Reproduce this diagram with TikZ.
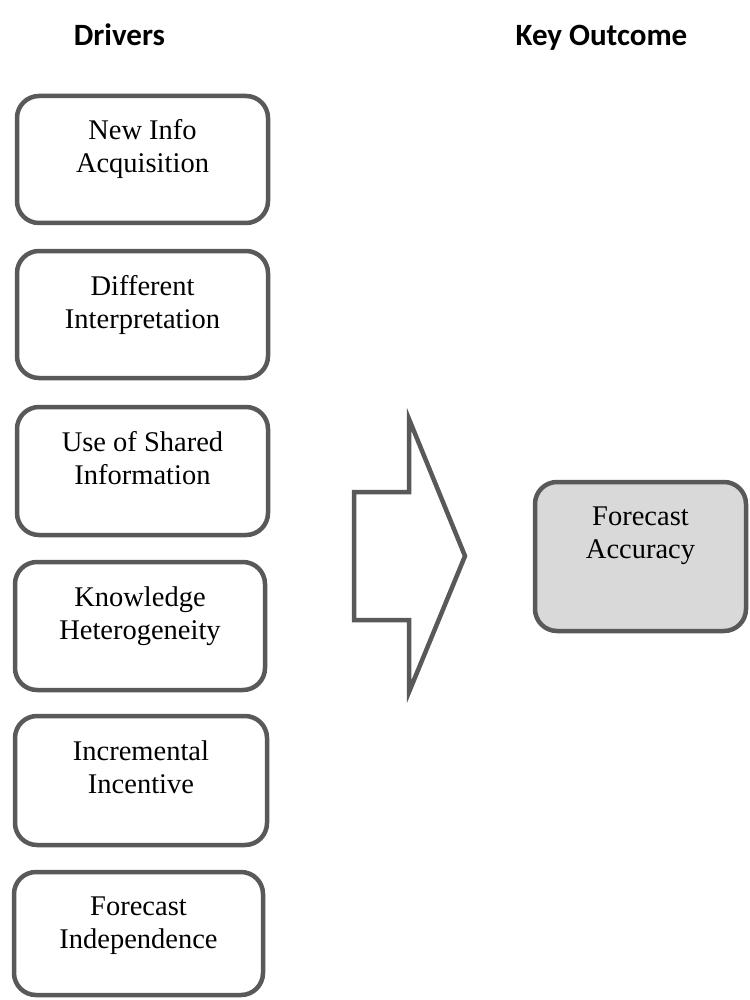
\documentclass[tikz,border=0pt]{standalone}
\usepackage{fontspec}
\setmainfont{Liberation Serif}
\newfontfamily\hdrfont{Carlito}
\definecolor{edgegray}{HTML}{595959}
\definecolor{fillgray}{HTML}{D9D9D9}
\begin{document}
\begin{tikzpicture}[x=1pt,y=-1pt,
  boxstyle/.style={draw=edgegray, line width=4.5pt, rounded corners=22pt, inner sep=0pt, fill=white},
  outbox/.style={boxstyle, fill=fillgray},
  lbl/.style={anchor=base, inner sep=0pt, font=\fontsize{28.5}{33}\selectfont},
  hdr/.style={anchor=base, inner sep=0pt, font=\hdrfont\bfseries\fontsize{31}{36}\selectfont}]
\useasboundingbox (0,0) rectangle (749,1000);
\fill[white] (0,0) rectangle (749,1000);

\node[hdr] (hd) at (119.5,46) {Drivers};
\node[hdr] (hk) at (601.5,46) {Key Outcome};

% boxes: center x, center y, width, height
\node[boxstyle, minimum width=251pt, minimum height=127pt] (b1) at (142.5,159.5) {};
\node[boxstyle, minimum width=251pt, minimum height=127pt] (b2) at (142.5,314.5) {};
\node[boxstyle, minimum width=251pt, minimum height=128pt] (b3) at (142.5,471) {};
\node[boxstyle, minimum width=250pt, minimum height=128pt] (b4) at (140,626) {};
\node[boxstyle, minimum width=252pt, minimum height=129pt] (b5) at (141,780.5) {};
\node[boxstyle, minimum width=249pt, minimum height=123pt] (b6) at (138.5,933.5) {};
\node[outbox, minimum width=211pt, minimum height=149pt] (fa) at (640.5,556.5) {};

\node[lbl] (t1) at (142.5,140) {\begin{tabular}[t]{@{}c@{}}New Info\\Acquisition\end{tabular}};
\node[lbl] (t2) at (142.5,295) {\begin{tabular}[t]{@{}c@{}}Different\\Interpretation\end{tabular}};
\node[lbl] (t3) at (142.5,451) {\begin{tabular}[t]{@{}c@{}}Use of Shared\\Information\end{tabular}};
\node[lbl] (t4) at (140,606) {\begin{tabular}[t]{@{}c@{}}Knowledge\\Heterogeneity\end{tabular}};
\node[lbl] (t5) at (141,760) {\begin{tabular}[t]{@{}c@{}}Incremental\\Incentive\end{tabular}};
\node[lbl] (t6) at (138.5,915) {\begin{tabular}[t]{@{}c@{}}Forecast\\Independence\end{tabular}};
\node[lbl] (tfa) at (640.5,525) {\begin{tabular}[t]{@{}c@{}}Forecast\\Accuracy\end{tabular}};

% block arrow
\draw[draw=edgegray, line width=4.5pt, line join=miter, fill=white]
  (409,419) -- (409,492) -- (354,492) -- (354,620) -- (409,620) -- (409,692) -- (465,556) -- cycle;
\end{tikzpicture}
\end{document}
